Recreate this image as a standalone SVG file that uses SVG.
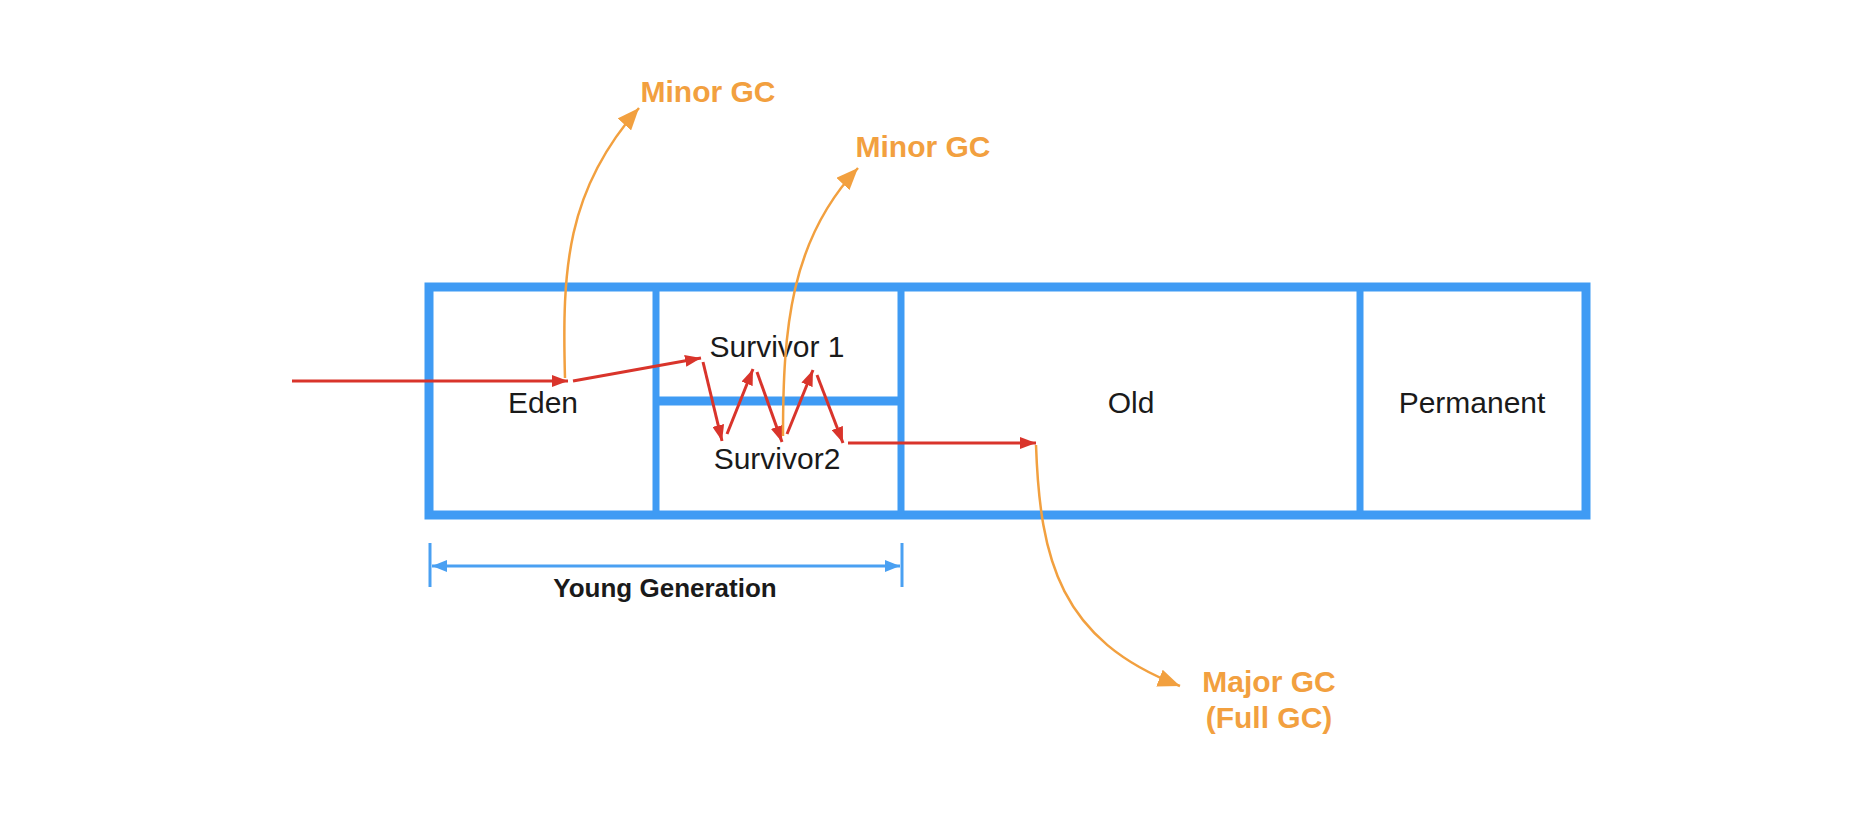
<svg xmlns="http://www.w3.org/2000/svg" width="1870" height="826" viewBox="0 0 1870 826">
<style>
.box{fill:none;stroke:#3f9bf4;stroke-width:9}
.div{stroke:#3f9bf4;stroke-width:7}
.lbl{font-family:"Liberation Sans",Arial,sans-serif;font-size:30px;fill:#1a1a1a;text-anchor:middle}
.gc{font-family:"Liberation Sans",Arial,sans-serif;font-size:30px;font-weight:bold;fill:#f2a03f;text-anchor:middle}
.yg{font-family:"Liberation Sans",Arial,sans-serif;font-size:26px;font-weight:bold;fill:#1a1a1a;text-anchor:middle}
.red{fill:none;stroke:#d9342b;stroke-width:3;marker-end:url(#ra)}
.org{fill:none;stroke:#f2a03f;stroke-width:2.5;marker-end:url(#oa)}
.dim{stroke:#4aa0f2;stroke-width:3;fill:none}
</style>
<defs>
<marker id="ra" viewBox="0 0 16 12" refX="16" refY="6" markerWidth="16" markerHeight="12" markerUnits="userSpaceOnUse" orient="auto"><path d="M0,0 L16,6 L0,12 z" fill="#d9342b"/></marker>
<marker id="oa" viewBox="0 0 22 18" refX="22" refY="9" markerWidth="22" markerHeight="18" markerUnits="userSpaceOnUse" orient="auto"><path d="M0,0 L22,9 L0,18 z" fill="#f2a03f"/></marker>
<marker id="ba" viewBox="0 0 15 12" refX="15" refY="6" markerWidth="15" markerHeight="12" markerUnits="userSpaceOnUse" orient="auto-start-reverse"><path d="M0,0 L15,6 L0,12 z" fill="#4aa0f2"/></marker>
</defs>
<rect width="1870" height="826" fill="#ffffff"/>
<g id="heap">
<rect class="box" x="429" y="287" width="1157" height="228"/>
</g>
<g id="eden">
<line class="div" x1="656" y1="287" x2="656" y2="515"/>
<text class="lbl" x="543" y="413">Eden</text>
</g>
<g id="survivor1">
<line class="div" x1="656" y1="401" x2="901" y2="401" style="stroke-width:9"/>
<text class="lbl" x="777" y="357">Survivor 1</text>
</g>
<g id="survivor2">
<text class="lbl" x="777" y="469">Survivor2</text>
</g>
<g id="old">
<line class="div" x1="901" y1="287" x2="901" y2="515"/>
<text class="lbl" x="1131" y="413">Old</text>
</g>
<g id="permanent">
<line class="div" x1="1360" y1="287" x2="1360" y2="515"/>
<text class="lbl" x="1472" y="413">Permanent</text>
</g>
<g id="young-generation">
<line class="dim" x1="430" y1="543" x2="430" y2="587"/>
<line class="dim" x1="902" y1="543" x2="902" y2="587"/>
<line class="dim" x1="432" y1="566" x2="900" y2="566" marker-start="url(#ba)" marker-end="url(#ba)"/>
<text class="yg" x="665" y="597">Young Generation</text>
</g>
<g id="minor-gc-1"><text class="gc" x="708" y="102">Minor GC</text></g>
<g id="minor-gc-2"><text class="gc" x="923" y="157">Minor GC</text></g>
<g id="major-gc"><text class="gc" x="1269" y="692">Major GC</text><text class="gc" x="1269" y="728">(Full GC)</text></g>
<g id="connectors">
<path class="red" d="M292 381 L568 381"/>
<path class="red" d="M573 381 L701 358"/>
<path class="red" d="M703 362 L722 441"/>
<path class="red" d="M727 434 L753 369"/>
<path class="red" d="M757 372 L782 442"/>
<path class="red" d="M787 434 L813 370"/>
<path class="red" d="M817 375 L843 443"/>
<path class="red" d="M848 443 L1036 443"/>
<path class="org" d="M565 378 C562 270 566 190 639 108"/>
<path class="org" d="M783 436 C783 330 790 240 858 168"/>
<path class="org" d="M1036 445 C1040 560 1060 640 1180 686"/>
</g>
</svg>
